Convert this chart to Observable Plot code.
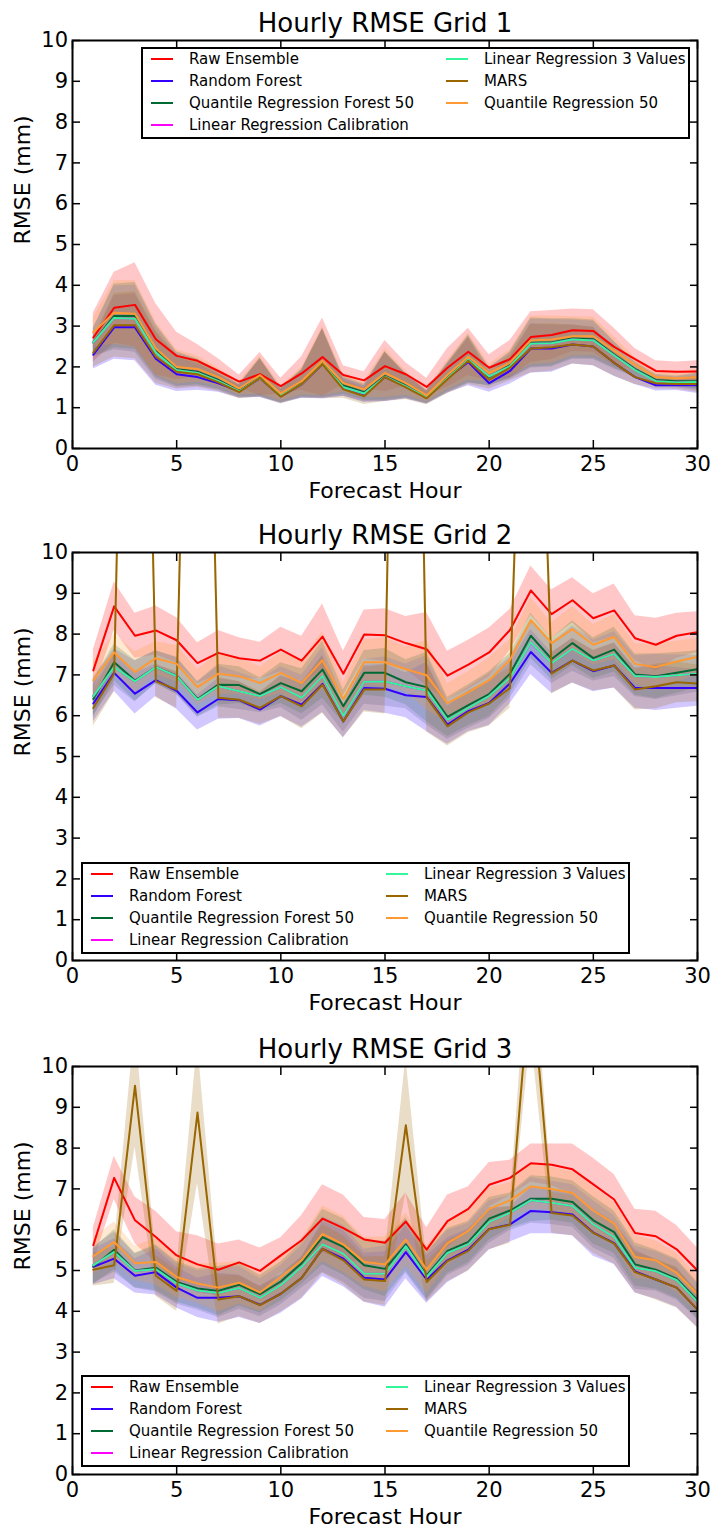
<!DOCTYPE html>
<html>
<head>
<meta charset="utf-8">
<script src="https://cdn.jsdelivr.net/npm/d3@7"></script>
<script src="https://cdn.jsdelivr.net/npm/@observablehq/plot@0.6"></script>
<style>
  html, body { margin: 0; padding: 0; background: #fff; }
  #root { position: relative; width: 715px; height: 1533px; overflow: hidden; font-family: "DejaVu Sans", sans-serif; }
</style>
</head>
<body>
<div id="root"></div>
<script>
// ---------- categories ----------
const hours = [1,2,3,4,5,6,7,8,9,10,11,12,13,14,15,16,17,18,19,20,21,22,23,24,25,26,27,28,29,30];
const xTicks = [0,5,10,15,20,25,30];
const yTicks = [0,1,2,3,4,5,6,7,8,9,10];
const seriesNames = ["Raw Ensemble","Random Forest","Quantile Regression Forest 50","Linear Regression Calibration","Linear Regression 3 Values","MARS","Quantile Regression 50"];
const seriesColors = ["#ff0000","#3300ff","#006a35","#ff00ff","#33f59a","#996600","#ff9933"];
const panelTitles = ["Hourly RMSE Grid 1","Hourly RMSE Grid 2","Hourly RMSE Grid 3"];

// ---------- Grid 1 ----------
const raw1  = [2.72,3.45,3.52,2.68,2.27,2.15,1.9,1.64,1.82,1.53,1.84,2.24,1.8,1.67,2.02,1.82,1.51,1.98,2.37,1.98,2.19,2.73,2.78,2.9,2.88,2.49,2.19,1.9,1.88,1.89];
const rf1   = [2.3,2.97,2.97,2.2,1.82,1.75,1.6,1.4,1.72,1.28,1.57,2.07,1.5,1.33,1.75,1.52,1.25,1.72,2.12,1.6,1.9,2.45,2.45,2.55,2.5,2.1,1.75,1.55,1.55,1.55];
const qrf1  = [2.6,3.25,3.25,2.4,1.95,1.88,1.68,1.42,1.75,1.3,1.6,2.1,1.55,1.38,1.78,1.55,1.27,1.75,2.2,1.75,2.05,2.6,2.6,2.7,2.68,2.3,1.95,1.68,1.65,1.65];
const lrc1  = [2.6,3.2,3.18,2.35,1.92,1.85,1.65,1.4,1.73,1.3,1.58,2.08,1.5,1.35,1.76,1.52,1.25,1.72,2.18,1.77,2.02,2.57,2.58,2.67,2.65,2.28,1.92,1.65,1.62,1.63];
const lr3_1 = [2.6,3.2,3.18,2.35,1.92,1.85,1.65,1.4,1.73,1.3,1.58,2.08,1.5,1.35,1.76,1.52,1.25,1.72,2.18,1.77,2.02,2.57,2.58,2.67,2.65,2.28,1.92,1.65,1.62,1.63];
const mars1 = [2.35,3.02,3.02,2.25,1.88,1.82,1.62,1.38,1.73,1.27,1.58,2.07,1.45,1.28,1.75,1.5,1.23,1.7,2.15,1.68,1.98,2.45,2.48,2.55,2.5,2.1,1.75,1.6,1.58,1.58];
const qr1   = [2.85,3.33,3.3,2.45,2.0,1.95,1.75,1.47,1.8,1.35,1.65,2.15,1.6,1.45,1.85,1.6,1.3,1.8,2.25,1.85,2.1,2.65,2.67,2.75,2.75,2.4,2.05,1.75,1.72,1.75];
const rawSpread1   = [0.6,0.87,1.03,0.87,0.58,0.4,0.3,0.16,0.53,0.19,0.41,0.96,0.23,0.21,0.63,0.28,0.21,0.47,0.58,0.32,0.46,0.62,0.6,0.52,0.52,0.46,0.26,0.25,0.24,0.26];
const modelSpread1 = [0.35,0.78,0.82,0.65,0.42,0.32,0.22,0.16,0.47,0.18,0.34,0.85,0.22,0.2,0.6,0.3,0.16,0.36,0.58,0.22,0.32,0.6,0.58,0.48,0.47,0.33,0.18,0.14,0.13,0.2];

// ---------- Grid 2 ----------
const raw2  = [7.11,8.68,7.96,8.09,7.85,7.29,7.54,7.41,7.35,7.62,7.35,7.94,7.03,7.99,7.97,7.78,7.63,6.98,7.25,7.55,8.1,9.07,8.49,8.83,8.39,8.58,7.9,7.74,7.96,8.05];
const rf2   = [6.3,7.05,6.54,6.87,6.61,6.08,6.41,6.38,6.15,6.48,6.27,6.78,5.86,6.68,6.66,6.5,6.46,5.78,6.11,6.31,6.79,7.56,7.05,7.35,7.09,7.23,6.68,6.68,6.68,6.68];
const qrf2  = [6.41,7.31,6.86,7.19,6.98,6.41,6.76,6.75,6.53,6.8,6.6,7.13,6.23,7.05,7.05,6.82,6.7,5.97,6.26,6.53,7.03,7.96,7.39,7.78,7.41,7.62,7.01,6.97,7.05,7.14];
const lrc2  = [6.48,7.19,6.84,7.19,6.97,6.39,6.72,6.6,6.48,6.7,6.44,6.97,6.0,6.83,6.84,6.72,6.62,5.9,6.19,6.48,6.93,7.8,7.29,7.64,7.35,7.51,6.97,6.95,6.99,7.03];
const lr3_2 = [6.48,7.19,6.84,7.19,6.97,6.39,6.72,6.6,6.48,6.7,6.44,6.97,6.0,6.83,6.84,6.72,6.62,5.9,6.19,6.48,6.93,7.8,7.29,7.64,7.35,7.51,6.97,6.95,6.99,7.03];
const mars2 = [6.19,7.03,30,6.84,6.64,28,6.44,6.39,6.19,6.48,6.23,6.76,5.86,6.64,6.64,33,6.45,5.74,6.08,6.3,6.68,22,7.03,7.35,7.11,7.23,6.64,6.72,6.82,6.79];
const qr2   = [6.87,7.55,7.07,7.41,7.27,6.7,7.03,6.97,6.8,7.05,6.8,7.36,6.41,7.31,7.31,7.14,6.99,6.31,6.58,6.87,7.37,8.34,7.78,8.12,7.74,7.93,7.27,7.19,7.33,7.44];
const rawSpread2   = [0.5,0.6,0.55,0.6,0.55,0.5,0.55,0.5,0.45,0.55,0.6,0.8,0.55,0.6,0.65,0.65,0.9,0.6,0.6,0.6,0.5,0.6,0.6,0.55,0.6,0.65,0.55,0.65,0.55,0.5];
const modelSpread2 = [0.45,0.45,0.5,0.4,0.45,0.43,0.5,0.45,0.4,0.5,0.55,0.7,0.4,0.55,0.6,0.55,0.85,0.48,0.5,0.55,0.5,0.55,0.5,0.55,0.5,0.55,0.5,0.55,0.5,0.45];

// ---------- Grid 3 ----------
const raw3  = [5.62,7.27,6.23,5.82,5.37,5.15,5.02,5.2,4.99,5.37,5.74,6.27,6.04,5.76,5.68,6.2,5.51,6.21,6.51,7.1,7.27,7.63,7.59,7.48,7.11,6.74,5.92,5.84,5.52,5.0];
const rf3   = [5.09,5.29,4.87,4.96,4.58,4.33,4.33,4.37,4.16,4.43,4.82,5.53,5.29,4.82,4.78,5.45,4.78,5.25,5.51,6.02,6.13,6.46,6.43,6.37,5.93,5.67,4.98,4.78,4.58,4.04];
const qrf3  = [5.1,5.51,5.0,5.07,4.72,4.56,4.5,4.65,4.42,4.73,5.18,5.82,5.58,5.13,5.04,5.64,4.88,5.48,5.7,6.27,6.47,6.76,6.76,6.68,6.23,5.94,5.15,5.02,4.8,4.27];
const lrc3  = [5.13,5.45,4.99,5.03,4.68,4.51,4.45,4.57,4.33,4.64,5.09,5.64,5.41,4.92,4.92,5.59,4.84,5.43,5.64,6.19,6.41,6.72,6.66,6.58,6.13,5.82,5.07,4.98,4.76,4.23];
const lr3_3 = [5.13,5.45,4.99,5.03,4.68,4.51,4.45,4.57,4.33,4.64,5.09,5.64,5.41,4.92,4.92,5.59,4.84,5.43,5.64,6.19,6.41,6.72,6.66,6.58,6.13,5.82,5.07,4.98,4.76,4.23];
const mars3 = [5.02,5.13,9.53,4.87,4.5,8.87,4.29,4.37,4.15,4.43,4.82,5.53,5.25,4.78,4.74,8.56,4.72,5.23,5.48,6.01,6.12,12.3,6.41,6.35,5.92,5.66,4.96,4.78,4.58,4.04];
const qr3   = [5.35,5.7,5.18,5.21,4.84,4.68,4.58,4.7,4.46,4.84,5.25,5.9,5.64,5.21,5.15,5.76,5.02,5.67,5.97,6.51,6.72,7.06,7.0,6.9,6.47,6.15,5.33,5.25,4.94,4.42];
const rawSpread3   = [0.43,0.53,0.57,0.63,0.58,0.7,0.63,0.55,0.56,0.43,0.61,0.83,0.81,0.54,0.57,0.7,0.54,0.64,0.54,0.55,0.43,0.47,0.51,0.62,0.64,0.61,0.58,0.61,0.58,0.55];
const modelSpread3 = [0.44,0.49,0.42,0.56,0.5,0.48,0.6,0.52,0.46,0.48,0.52,0.68,0.69,0.6,0.68,0.65,0.58,0.55,0.51,0.52,0.43,0.56,0.53,0.52,0.58,0.52,0.53,0.48,0.48,0.44];
const marsSpread3  = [0.4,0.45,1.5,0.5,0.5,1.74,0.6,0.5,0.45,0.45,0.5,0.6,0.6,0.55,0.6,1.66,0.5,0.5,0.5,0.5,0.45,1.5,0.5,0.5,0.5,0.5,0.5,0.5,0.5,0.45];

const panels = [
  {values: [raw1, rf1, qrf1, lrc1, lr3_1, mars1, qr1],
   spreads: [rawSpread1, modelSpread1, modelSpread1, modelSpread1, modelSpread1, modelSpread1, modelSpread1]},
  {values: [raw2, rf2, qrf2, lrc2, lr3_2, mars2, qr2],
   spreads: [rawSpread2, modelSpread2, modelSpread2, modelSpread2, modelSpread2, modelSpread2, modelSpread2]},
  {values: [raw3, rf3, qrf3, lrc3, lr3_3, mars3, qr3],
   spreads: [rawSpread3, modelSpread3, modelSpread3, modelSpread3, modelSpread3, marsSpread3, modelSpread3]}
];

// ---------- layout ----------
const frameTops = [40, 552, 1066];
const legendPos = [{left: 141, top: 47}, {left: 81, top: 862}, {left: 81, top: 1375}];
const root = document.getElementById("root");

function makePanel(p, k) {
  const marks = [];
  const tables = p.values.map((vals, s) => hours.map((h, i) => ({
    h, v: vals[i], lo: vals[i] - p.spreads[s][i], hi: vals[i] + p.spreads[s][i]
  })));
  tables.forEach((rows, s) => {
    marks.push(Plot.areaY(rows, {x: "h", y1: "lo", y2: "hi", fill: seriesColors[s], fillOpacity: 0.22, clip: true}));
  });
  tables.forEach((rows, s) => {
    marks.push(Plot.lineY(rows, {x: "h", y: "v", stroke: seriesColors[s], strokeWidth: 2, clip: true}));
  });
  const fmt = d => String(d);
  marks.push(
    Plot.axisX({anchor: "bottom", ticks: xTicks, tickSize: -8, tickPadding: 16, fontSize: 21, label: null, tickFormat: fmt, strokeWidth: 1.5}),
    Plot.axisX({anchor: "top", ticks: xTicks, tickSize: -8, tickPadding: 16, label: null, tickFormat: () => "", strokeWidth: 1.5}),
    Plot.axisY({anchor: "left", ticks: yTicks, tickSize: -8, tickPadding: 12.5, fontSize: 21, label: null, tickFormat: fmt, strokeWidth: 1.5}),
    Plot.axisY({anchor: "right", ticks: yTicks, tickSize: -8, tickPadding: 12, label: null, tickFormat: () => "", strokeWidth: 1.5}),
    Plot.frame({stroke: "#000", strokeWidth: 2}),
    Plot.text([panelTitles[k]], {text: d => d, frameAnchor: "top", lineAnchor: "bottom", dy: -9, fontSize: 26, fill: "#000"}),
    Plot.text(["Forecast Hour"], {text: d => d, frameAnchor: "bottom", lineAnchor: "bottom", dy: 49, fontSize: 22, fill: "#000"}),
    Plot.text(["RMSE (mm)"], {text: d => d, frameAnchor: "left", rotate: -90, dx: -43, lineAnchor: "bottom", fontSize: 22, fill: "#000"})
  );
  const svg = Plot.plot({
    width: 715,
    height: 506,
    marginTop: 40,
    marginBottom: 58,
    marginLeft: 72,
    marginRight: 18,
    x: {domain: [0, 30], axis: null},
    y: {domain: [0, 10], axis: null},
    style: {fontFamily: "DejaVu Sans", fontSize: "21px", background: "transparent", overflow: "visible", color: "#000"},
    marks
  });
  svg.style.position = "absolute";
  svg.style.left = "0px";
  svg.style.top = (frameTops[k] - 40) + "px";
  root.appendChild(svg);
}

function makeLegend(pos) {
  const box = document.createElement("div");
  Object.assign(box.style, {
    position: "absolute", left: pos.left + "px", top: pos.top + "px",
    width: "549px", height: "92px", border: "2px solid #000", background: "#fff",
    boxSizing: "border-box", fontFamily: "DejaVu Sans", fontSize: "15px", color: "#000"
  });
  seriesNames.forEach((name, i) => {
    const col = i < 4 ? 0 : 1, row = i < 4 ? i : i - 4;
    const sw = document.createElement("div");
    Object.assign(sw.style, {
      position: "absolute", left: (8 + col * 295) + "px", top: (9.3 + row * 22) + "px",
      width: "22px", height: "2px", background: seriesColors[i]
    });
    const tx = document.createElement("div");
    tx.textContent = name;
    Object.assign(tx.style, {
      position: "absolute", left: (46 + col * 295) + "px", top: (-1.4 + row * 22) + "px",
      lineHeight: "22px", whiteSpace: "nowrap"
    });
    box.appendChild(sw);
    box.appendChild(tx);
  });
  root.appendChild(box);
}

panels.forEach((p, k) => makePanel(p, k));
legendPos.forEach(pos => makeLegend(pos));
</script>
</body>
</html>
